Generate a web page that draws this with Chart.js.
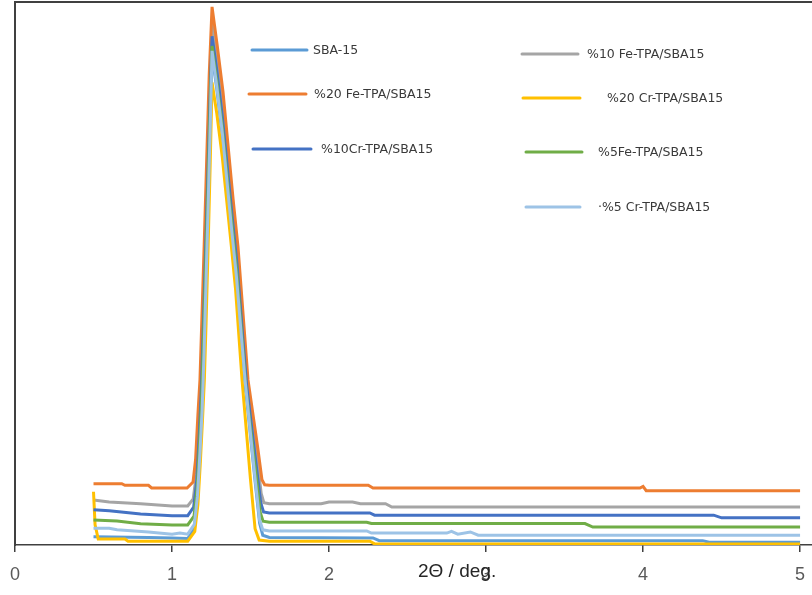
<!DOCTYPE html>
<html>
<head>
<meta charset="utf-8">
<style>
  html, body { margin: 0; padding: 0; background: #fff; }
  #wrap { width: 812px; height: 595px; }
</style>
<script src="https://cdn.jsdelivr.net/npm/chart.js@4/dist/chart.umd.min.js"></script>
</head>
<body>
<div id="wrap"><canvas id="xrdChart" width="812" height="595"></canvas></div>
<script>
// Series names (Excel order, legend reads row by row)
const seriesNames = [
    "SBA-15",
    "%10 Fe-TPA/SBA15",
    "%20 Fe-TPA/SBA15",
    "%20 Cr-TPA/SBA15",
    "%10Cr-TPA/SBA15",
    "%5Fe-TPA/SBA15",
    "·%5 Cr-TPA/SBA15"
];
const axisTitle = "2Θ / deg.";

// 2θ positions and intensities, one pair per series
const sbaX = [0.5, 0.85, 1.0, 1.10, 1.142, 1.162, 1.178, 1.192, 1.204, 1.217, 1.231, 1.245, 1.255, 1.285, 1.32, 1.38, 1.41, 1.465, 1.53, 1.558, 1.578, 1.62, 2.28, 2.32, 4.38, 4.42, 5.0];
const sbaY = [1.5, 1.4, 1.3, 1.2, 3.0, 8.5, 16.5, 24.5, 35.0, 48.5, 63.0, 78.5, 90.4, 84.0, 75.5, 57.5, 49.0, 30.0, 11.5, 4.0, 1.8, 1.4, 1.3, 0.8, 0.8, 0.5, 0.5];

const fe10X = [0.5, 0.6, 0.8, 1.0, 1.10, 1.135, 1.155, 1.17, 1.183, 1.195, 1.21, 1.225, 1.24, 1.255, 1.285, 1.32, 1.385, 1.415, 1.478, 1.54, 1.568, 1.585, 1.62, 1.95, 2.0, 2.15, 2.2, 2.36, 2.4, 5.0];
const fe10Y = [8.3, 7.9, 7.6, 7.2, 7.2, 8.5, 13.0, 21.0, 28.5, 39.5, 53.0, 67.5, 83.0, 95.9, 89.5, 81.0, 62.0, 53.5, 30.4, 16.5, 9.5, 7.8, 7.6, 7.6, 7.9, 7.9, 7.6, 7.6, 7.0, 7.0];

const fe20X = [0.5, 0.68, 0.70, 0.85, 0.87, 1.096, 1.134, 1.15, 1.165, 1.178, 1.19, 1.205, 1.22, 1.237, 1.255, 1.287, 1.325, 1.389, 1.42, 1.484, 1.545, 1.573, 1.59, 1.62, 2.25, 2.28, 3.98, 4.0, 4.02, 5.0];
const fe20Y = [11.3, 11.3, 11.0, 11.0, 10.5, 10.5, 11.6, 15.7, 24.0, 30.4, 41.5, 55.4, 70.1, 86.7, 99.1, 92.2, 83.4, 63.7, 55.0, 30.4, 18.1, 12.0, 11.1, 11.0, 11.0, 10.5, 10.5, 10.8, 10.0, 10.0];

const cr20X = [0.5, 0.51, 0.53, 0.70, 0.72, 1.10, 1.145, 1.165, 1.18, 1.194, 1.206, 1.217, 1.23, 1.243, 1.255, 1.285, 1.32, 1.378, 1.405, 1.446, 1.50, 1.529, 1.555, 1.62, 2.26, 2.29, 5.0];
const cr20Y = [9.8, 3.7, 1.1, 1.1, 0.7, 0.7, 2.5, 7.5, 15.0, 23.0, 30.4, 41.0, 55.0, 70.0, 85.2, 79.5, 71.5, 55.0, 47.0, 30.4, 12.0, 3.0, 0.9, 0.7, 0.7, 0.2, 0.2];

const cr10X = [0.5, 0.6, 0.8, 1.0, 1.10, 1.138, 1.158, 1.173, 1.186, 1.198, 1.212, 1.227, 1.242, 1.255, 1.285, 1.32, 1.383, 1.413, 1.475, 1.537, 1.565, 1.583, 1.62, 2.26, 2.29, 4.45, 4.5, 5.0];
const cr10Y = [6.5, 6.3, 5.7, 5.4, 5.4, 7.0, 12.0, 20.0, 28.0, 39.0, 52.5, 67.0, 82.0, 93.7, 87.5, 79.0, 60.5, 52.0, 29.5, 14.5, 7.8, 6.1, 5.9, 5.9, 5.5, 5.5, 5.0, 5.0];

const fe5X = [0.5, 0.65, 0.8, 1.0, 1.10, 1.14, 1.16, 1.175, 1.188, 1.20, 1.214, 1.229, 1.243, 1.255, 1.285, 1.32, 1.382, 1.412, 1.472, 1.535, 1.562, 1.58, 1.62, 2.24, 2.27, 3.63, 3.68, 5.0];
const fe5Y = [4.6, 4.4, 3.9, 3.7, 3.7, 5.3, 10.5, 18.5, 26.5, 37.5, 51.0, 65.5, 80.5, 91.9, 85.5, 77.0, 59.0, 50.5, 28.5, 13.0, 6.0, 4.4, 4.2, 4.2, 3.95, 3.95, 3.3, 3.3];

const cr5X = [0.5, 0.6, 0.65, 0.85, 1.0, 1.05, 1.10, 1.142, 1.162, 1.178, 1.192, 1.204, 1.217, 1.231, 1.245, 1.255, 1.285, 1.32, 1.38, 1.41, 1.465, 1.53, 1.558, 1.578, 1.62, 2.24, 2.27, 2.75, 2.78, 2.82, 2.9, 2.95, 5.0];
const cr5Y = [3.1, 3.1, 2.8, 2.4, 2.0, 2.2, 2.0, 3.8, 9.0, 17.0, 25.0, 35.5, 49.0, 63.5, 79.0, 91.0, 84.5, 76.0, 58.0, 49.5, 30.4, 12.0, 4.6, 2.8, 2.6, 2.6, 2.2, 2.2, 2.5, 2.0, 2.4, 1.8, 1.8];

const seriesX = [sbaX, fe10X, fe20X, cr20X, cr10X, fe5X, cr5X];
const seriesY = [sbaY, fe10Y, fe20Y, cr20Y, cr10Y, fe5Y, cr5Y];

// Office-like palette
const seriesColors = ["#5B9BD5", "#A5A5A5", "#ED7D31", "#FFC000", "#4472C4", "#70AD47", "#9DC3E6"];

const axisColor = "#404040";
const xMax = 5.076; // axis runs a little past 5, to the edge

// Free-floating legend: [lineStart, lineEnd, y, textX]
const legendSpots = [
    [252, 307, 50, 313],
    [522, 578, 54, 587],
    [249, 306, 94, 314],
    [523, 580, 98, 607],
    [253, 311, 149, 321],
    [526, 582, 152, 598],
    [526, 580, 207, 598]
];

const floatingLegend = {
    id: "floatingLegend",
    afterDraw(chart) {
        const ctx = chart.ctx;
        ctx.save();
        chart.data.datasets.forEach((ds, i) => {
            const [x1, x2, y, tx] = legendSpots[i];
            ctx.strokeStyle = ds.borderColor;
            ctx.lineWidth = 3;
            ctx.lineCap = "round";
            ctx.beginPath();
            ctx.moveTo(x1, y);
            ctx.lineTo(x2, y);
            ctx.stroke();
            ctx.fillStyle = "#3a3a3a";
            ctx.font = "12.5px 'DejaVu Sans'";
            ctx.textBaseline = "middle";
            ctx.textAlign = "left";
            ctx.fillText(ds.label, tx, y + 1);
        });
        // axis title sits on the tick label row, over the "3"
        ctx.fillStyle = "#262626";
        ctx.font = "19px 'Liberation Sans'";
        ctx.textBaseline = "alphabetic";
        ctx.fillText(axisTitle, 418, 577);
        ctx.restore();
    }
};

const ctx = document.getElementById("xrdChart").getContext("2d");
const xrdChart = new Chart(ctx, {
    type: "line",
    data: {
        datasets: seriesNames.map((name, i) => ({
            label: name,
            data: seriesX[i].map((x, k) => ({ x: x, y: seriesY[i][k] })),
            borderColor: seriesColors[i],
            borderWidth: 3,
            pointRadius: 0,
            tension: 0,
            fill: false,
            order: seriesNames.length - i // later series on top, like Excel
        }))
    },
    options: {
        responsive: false,
        animation: false,
        layout: { padding: { left: 15, right: 0, top: 2, bottom: -3 } },
        plugins: {
            legend: { display: false },
            tooltip: { enabled: false }
        },
        scales: {
            x: {
                type: "linear",
                min: 0,
                max: xMax,
                afterFit(scale) {
                    // let the end labels hang over the edges
                    scale.paddingLeft = 0;
                    scale.paddingRight = 0;
                },
                ticks: {
                    stepSize: 1,
                    includeBounds: false,
                    padding: 14,
                    color: "#595959",
                    font: { family: "Liberation Sans", size: 18, lineHeight: 1 }
                },
                grid: { display: true, drawOnChartArea: false, drawTicks: true, tickLength: 7, color: axisColor, lineWidth: 1.5 },
                border: { display: true, color: axisColor, width: 1.5 }
            },
            xTop: {
                type: "linear",
                axis: "x",
                position: "top",
                min: 0,
                max: xMax,
                ticks: { display: false },
                grid: { display: false, drawTicks: false },
                border: { display: true, color: axisColor, width: 2 }
            },
            y: {
                min: 0,
                max: 100,
                ticks: { display: false },
                grid: { display: false, drawTicks: false },
                border: { display: true, color: axisColor, width: 2 }
            }
        }
    },
    plugins: [floatingLegend]
});
</script>
</body>
</html>
